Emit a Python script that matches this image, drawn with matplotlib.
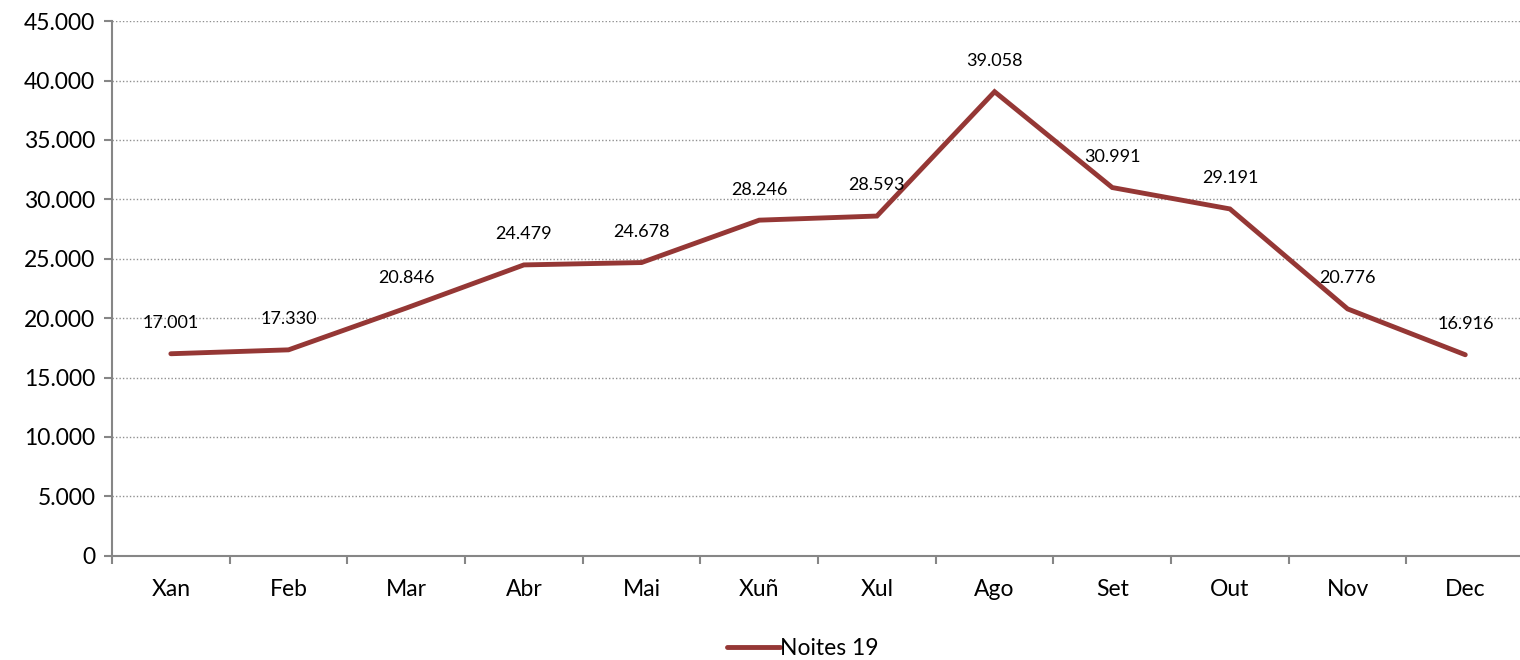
import matplotlib
matplotlib.use("Agg")
import matplotlib.pyplot as plt
from matplotlib.ticker import FuncFormatter, FixedLocator

# ---------------------------------------------------------------------------
# Data
# ---------------------------------------------------------------------------
MONTHS = ["Xan", "Feb", "Mar", "Abr", "Mai", "Xuñ", "Xul", "Ago", "Set", "Out", "Nov", "Dec"]
NOITES_19 = [17001, 17330, 20846, 24479, 24678, 28246, 28593, 39058, 30991, 29191, 20776, 16916]
SERIES_NAME = "Noites 19"

LINE_COLOR = "#953735"
SPINE_COLOR = "#868686"


def thousands(v, _pos=None):
    if v == 0:
        return "0"
    return f"{int(round(v)):,}".replace(",", ".")


plt.rcParams["font.family"] = ["Lato", "DejaVu Sans"]

fig = plt.figure(figsize=(15.2, 6.6), dpi=100)
ax = fig.add_axes([0.0737, 0.158, 0.929, 0.810])

x = list(range(len(MONTHS)))
ax.plot(x, NOITES_19, color=LINE_COLOR, linewidth=3.5, label=SERIES_NAME,
        solid_joinstyle="miter", solid_capstyle="round", zorder=3)

for xi, v in zip(x, NOITES_19):
    ax.annotate(thousands(v), (xi, v), xytext=(0, 22), textcoords="offset points",
                ha="center", va="center", fontsize=13, color="#000000")

ax.set_xlim(-0.5, len(MONTHS) - 0.5)
ax.set_ylim(0, 45000)
ax.yaxis.set_major_locator(FixedLocator(range(0, 45001, 5000)))
ax.yaxis.set_major_formatter(FuncFormatter(thousands))
ax.set_xticks(x)
ax.set_xticklabels(MONTHS)
ax.set_xticks([i - 0.5 for i in range(len(MONTHS) + 1)], minor=True)

ax.grid(axis="y", linestyle=(0, (1, 1.5)), color="#909090", linewidth=1.0)
ax.set_axisbelow(True)

for side in ("top", "right"):
    ax.spines[side].set_visible(False)
for side in ("left", "bottom"):
    ax.spines[side].set_color(SPINE_COLOR)
    ax.spines[side].set_linewidth(1.5)

ax.tick_params(axis="y", which="major", length=6, width=1.5, color=SPINE_COLOR,
               labelsize=16.5, pad=6)
ax.tick_params(axis="x", which="major", length=0, labelsize=16.5, pad=17)
ax.tick_params(axis="x", which="minor", length=6, width=1.5, color=SPINE_COLOR)

fig.legend(loc="center", bbox_to_anchor=(0.528, 0.018), frameon=False, fontsize=16.5,
           handlelength=2.3, handletextpad=0.0, borderaxespad=0)

fig.savefig("out.png", dpi=100)
